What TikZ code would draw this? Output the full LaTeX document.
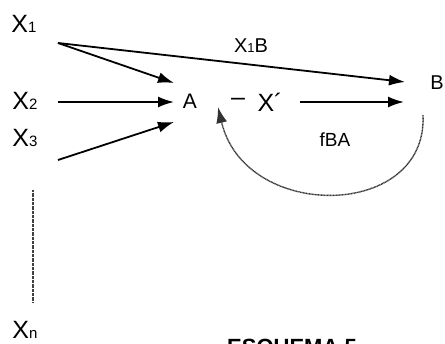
\documentclass[tikz,border=0pt]{standalone}
\usepackage{fontspec}
\setmainfont{Liberation Sans}
\usetikzlibrary{arrows.meta}
\newcommand\sbs[1]{{\fontsize{15}{15}\selectfont #1}}
\newcommand\sbm[1]{{\fontsize{13}{13}\selectfont #1}}
\begin{document}
\begin{tikzpicture}[x=1pt,y=-1pt,
  lbl/.style={inner sep=0pt, font=\fontsize{25}{25}\selectfont},
  mid/.style={inner sep=0pt, font=\fontsize{19}{19}\selectfont},
  arr/.style={line width=1.8pt, -{Latex[length=16pt,width=11pt]}},
  fb/.style={line width=1.4pt, black!80, dash pattern=on 1pt off 0.5pt, -{Latex[length=16pt,width=11pt]}},
  vdots/.style={line width=1.2pt, black!75, dash pattern=on 0.8pt off 0.5pt}]
\useasboundingbox (0,0) rectangle (445,344);
% labels
\node[lbl] (x1) at (24,24) {X\sbs{1}};
\node[lbl] (x2) at (25,101) {X\sbs{2}};
\node[lbl] (x3) at (25,138) {X\sbs{3}};
\node[lbl] (xn) at (25,330) {X\sbs{n}};
\node[mid, font=\fontsize{21}{21}\selectfont] (A) at (190,101) {A};
\node[mid, font=\fontsize{20}{20}\selectfont] (B) at (437,83) {B};
\node[mid, font=\fontsize{20}{20}\selectfont] (x1b) at (251,46) {X\sbm{1}B};
\node[lbl] (dash) at (238,102) {–};
\node[lbl] (xp) at (270,102) {X´};
\node[mid] (fba) at (335,140) {fBA};
\node[inner sep=0pt, anchor=north, font=\fontsize{22}{22}\selectfont\bfseries] (title) at (292,339) {ESQUEMA 5};
% coordinates
\coordinate (s1) at (58,43);
\coordinate (s2) at (58,102);
\coordinate (s3) at (58,160);
\coordinate (t1) at (174,83);
\coordinate (t2) at (174,102);
\coordinate (t3) at (174,122);
\coordinate (tb) at (405,82);
\coordinate (xs) at (300,102);
\coordinate (xe) at (404,102);
\coordinate (fs) at (423,115);
\coordinate (fe) at (218,107);
\coordinate (d1) at (33,190);
\coordinate (d2) at (33,303);
% connectors
\draw[arr] (s1) -- (t1);
\draw[arr] (s2) -- (t2);
\draw[arr] (s3) -- (t3);
\draw[arr] (s1) -- (tb);
\draw[arr] (xs) -- (xe);
\draw[fb] (fs) .. controls (428,220) and (245,222) .. (fe);
\draw[vdots] (d1) -- (d2);
\end{tikzpicture}
\end{document}
